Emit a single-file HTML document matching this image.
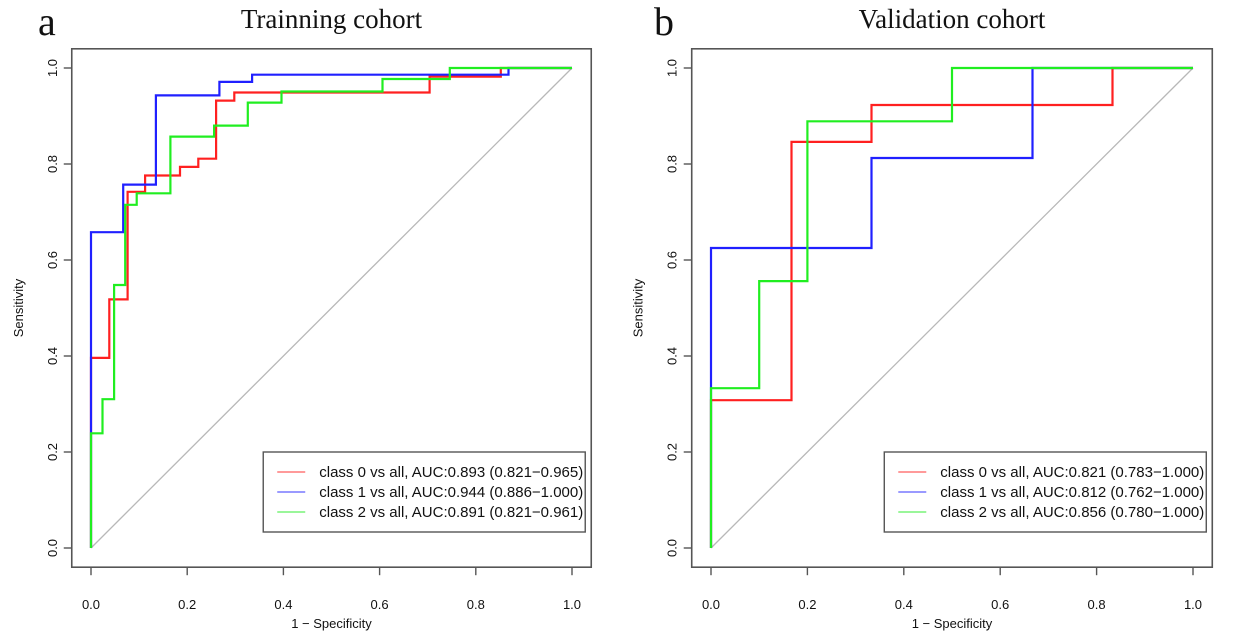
<!DOCTYPE html>
<html><head><meta charset="utf-8"><style>
body{margin:0;background:#fff;width:1236px;height:642px;overflow:hidden}
svg{display:block}
text{font-family:"Liberation Sans",Arial,sans-serif;fill:#111}
.serif{font-family:"Liberation Serif","Times New Roman",serif}
</style></head><body>
<svg id="chart" width="1236" height="642"></svg>
<script>
const ticks = [0, 0.2, 0.4, 0.6, 0.8, 1.0];
const tickLabels = ["0.0", "0.2", "0.4", "0.6", "0.8", "1.0"];
const seriesNames = ["class 0", "class 1", "class 2"];
const colors = ["#ff2020", "#2020ff", "#20ee20"];
// Training cohort ROC points (fpr, tpr)
const trainFpr0 = [0,0,0.038,0.038,0.076,0.076,0.1125,0.1125,0.185,0.185,0.223,0.223,0.26,0.26,0.298,0.298,0.704,0.704,0.852,0.852,1];
const trainTpr0 = [0,0.396,0.396,0.518,0.518,0.742,0.742,0.776,0.776,0.794,0.794,0.811,0.811,0.932,0.932,0.949,0.949,0.982,0.982,1,1];
const trainFpr1 = [0,0,0.067,0.067,0.135,0.135,0.267,0.267,0.335,0.335,0.868,0.868,1];
const trainTpr1 = [0,0.658,0.658,0.757,0.757,0.943,0.943,0.971,0.971,0.986,0.986,1,1];
const trainFpr2 = [0,0,0.024,0.024,0.048,0.048,0.071,0.071,0.095,0.095,0.165,0.165,0.256,0.256,0.326,0.326,0.396,0.396,0.606,0.606,0.746,0.746,1];
const trainTpr2 = [0,0.239,0.239,0.310,0.310,0.548,0.548,0.715,0.715,0.739,0.739,0.857,0.857,0.88,0.88,0.928,0.928,0.951,0.951,0.977,0.977,1,1];
// Validation cohort ROC points
const valFpr0 = [0,0,0.167,0.167,0.333,0.333,0.833,0.833,1];
const valTpr0 = [0,0.308,0.308,0.846,0.846,0.923,0.923,1,1];
const valFpr1 = [0,0,0.333,0.333,0.667,0.667,1];
const valTpr1 = [0,0.625,0.625,0.8125,0.8125,1,1];
const valFpr2 = [0,0,0.1,0.1,0.2,0.2,0.5,0.5,1];
const valTpr2 = [0,0.333,0.333,0.556,0.556,0.889,0.889,1,1];
const trainLegend = ["class 0 vs all, AUC:0.893 (0.821\u22120.965)","class 1 vs all, AUC:0.944 (0.886\u22121.000)","class 2 vs all, AUC:0.891 (0.821\u22120.961)"];
const valLegend = ["class 0 vs all, AUC:0.821 (0.783\u22121.000)","class 1 vs all, AUC:0.812 (0.762\u22121.000)","class 2 vs all, AUC:0.856 (0.780\u22121.000)"];

const NS = "http://www.w3.org/2000/svg";
const svg = document.getElementById("chart");
function mk(tag, attrs, parent, txt){
  const e = document.createElementNS(NS, tag);
  for (const k in attrs) e.setAttribute(k, attrs[k]);
  if (txt !== undefined) e.textContent = txt;
  (parent || svg).appendChild(e);
  return e;
}
function panel(cfg){
  const g = mk("g", {});
  
  
  const x0 = cfg.x0, unit = cfg.unit, y0 = 548, yunit = 480;
  const sx = v => x0 + v * unit;
  const sy = v => y0 - v * yunit;
  const L = sx(-0.04), R = sx(1.04), T = sy(1.04), B = sy(-0.04);
  const d = mk("line", {x1: sx(0), y1: sy(0), x2: sx(1), y2: sy(1), stroke: "#b8b8b8", "stroke-width": 1.3}, g);
  
  
  cfg.series.forEach((s, i) => {
    const pts = s[0].map((f, j) => sx(f).toFixed(1) + "," + sy(s[1][j]).toFixed(1)).join(" ");
    const p = mk("polyline", {points: pts, fill: "none", stroke: colors[i], "stroke-width": 2.2}, g);
    
    
  });
  const box = mk("rect", {x: L, y: T, width: R - L, height: B - T, fill: "none", stroke: "#555", "stroke-width": 1.6}, g);
  
  
  ticks.forEach((t, i) => {
    mk("line", {x1: sx(t), y1: B, x2: sx(t), y2: B + 8, stroke: "#555", "stroke-width": 1.4}, g);
    const xl = mk("text", {x: sx(t), y: 609, "text-anchor": "middle", "font-size": 13}, g, tickLabels[i]);
    
    
    mk("line", {x1: L - 8, y1: sy(t), x2: L, y2: sy(t), stroke: "#555", "stroke-width": 1.4}, g);
    const yl = mk("text", {x: 0, y: 0, "text-anchor": "middle", "font-size": 13,
      transform: "translate(" + (L - 15) + "," + sy(t) + ") rotate(-90)"}, g, tickLabels[i]);
    
    
  });
  const xt = mk("text", {x: sx(0.5), y: 628, "text-anchor": "middle", "font-size": 13}, g, "1 \u2212 Specificity");
  
  
  const yt = mk("text", {x: 0, y: 0, "text-anchor": "middle", "font-size": 13,
    transform: "translate(" + (L - 49) + "," + sy(0.5) + ") rotate(-90)"}, g, "Sensitivity");
  
  
  const tt = mk("text", {x: sx(0.5), y: 28, "text-anchor": "middle", "font-size": 27, "class": "serif"}, g, cfg.title);
  
  
  const lt = mk("text", {x: cfg.letterX, y: 35, "font-size": 40, "class": "serif"}, g, cfg.letter);
  
  
  const lg = mk("g", {}, g);
  
  
  const lx = R - 328;
  mk("rect", {x: lx, y: 452, width: 322, height: 80, fill: "#fff", stroke: "#555", "stroke-width": 1.4}, lg);
  cfg.legend.forEach((s, i) => {
    const yy = 472 + i * 20;
    const ln = mk("line", {x1: lx + 14, y1: yy, x2: lx + 42, y2: yy, stroke: colors[i], "stroke-width": 1.6, opacity: 0.6}, lg);
    
    
    const tx = mk("text", {x: lx + 56, y: yy + 5, "font-size": 15, textLength: 264, lengthAdjust: "spacingAndGlyphs"}, lg, s);
    
    
  });
}
panel({name: "training-panel", x0: 91, unit: 481, title: "Trainning cohort", letter: "a", letterX: 38,
  series: [[trainFpr0, trainTpr0], [trainFpr1, trainTpr1], [trainFpr2, trainTpr2]], legend: trainLegend});
panel({name: "validation-panel", x0: 711, unit: 482, title: "Validation cohort", letter: "b", letterX: 654,
  series: [[valFpr0, valTpr0], [valFpr1, valTpr1], [valFpr2, valTpr2]], legend: valLegend});
</script>
</body></html>
